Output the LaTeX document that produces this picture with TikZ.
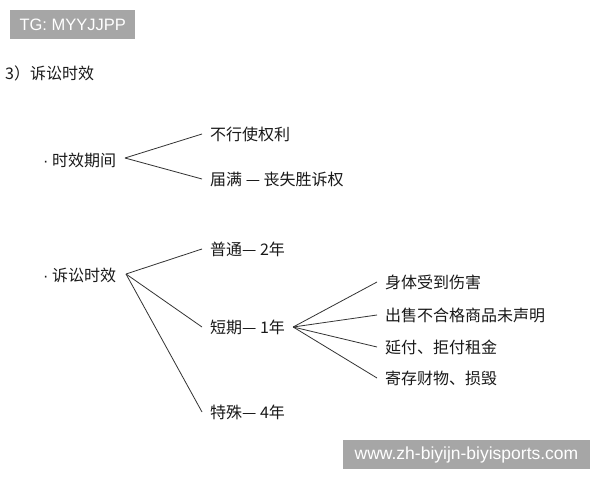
\documentclass[tikz,border=0pt]{standalone}
\usepackage{fontspec}
\setmainfont{Noto Sans CJK SC}
\newfontfamily\wmfont{Liberation Sans}
\begin{document}
\begin{tikzpicture}[x=1pt,y=-1pt,
  lbl/.style={anchor=west, inner xsep=8pt, inner ysep=0pt, font=\fontsize{16}{18}\selectfont, text=black!90},
  conn/.style={draw=black!80, line width=0.8pt},
  wm/.style={fill=black!35, text=white, font=\wmfont\fontsize{16.5}{18}\selectfont, inner sep=0pt}]
\useasboundingbox[fill=white] (0,0) rectangle (600,480);
% watermarks
\node[wm, minimum width=125pt, minimum height=29pt, anchor=north west] (wm1) at (10,10) {TG: MYYJJPP};
\node[wm, minimum width=247pt, minimum height=29pt, font=\wmfont\fontsize{17.5}{19}\selectfont] (wm2) at (466.5,454.5) {www.zh-biyijn-biyisports.com};
% title
\node[lbl, inner xsep=0pt] (title) at (5,73) {3）诉讼时效};
% first group
\node[lbl, inner xsep=0pt] (a) at (43,160) {{\wmfont ·}\hspace{3.5pt}时效期间};
\coordinate (ja) at (125,158);
\node[lbl] (b1) at (202,134) {不行使权利};
\node[lbl] (b2) at (202,179) {届满 — 丧失胜诉权};
\draw[conn] (ja) -- (b1.west);
\draw[conn] (ja) -- (b2.west);
% second group
\node[lbl, inner xsep=0pt] (a2) at (43,275) {{\wmfont ·}\hspace{3.5pt}诉讼时效};
\coordinate (jb) at (126,274);
\node[lbl] (c1) at (202,249) {普通— 2年};
\node[lbl] (c2) at (202,327) {短期— 1年};
\node[lbl] (c3) at (202,412) {特殊— 4年};
\draw[conn] (jb) -- (c1.west);
\draw[conn] (jb) -- (c2.west);
\draw[conn] (jb) -- (c3.west);
% third level
\node[lbl] (d1) at (377,282) {身体受到伤害};
\node[lbl] (d2) at (377,315) {出售不合格商品未声明};
\node[lbl] (d3) at (377,347) {延付、拒付租金};
\node[lbl] (d4) at (377,378) {寄存财物、损毁};
\draw[conn] (c2.east) -- (d1.west);
\draw[conn] (c2.east) -- (d2.west);
\draw[conn] (c2.east) -- (d3.west);
\draw[conn] (c2.east) -- (d4.west);
\end{tikzpicture}
\end{document}
